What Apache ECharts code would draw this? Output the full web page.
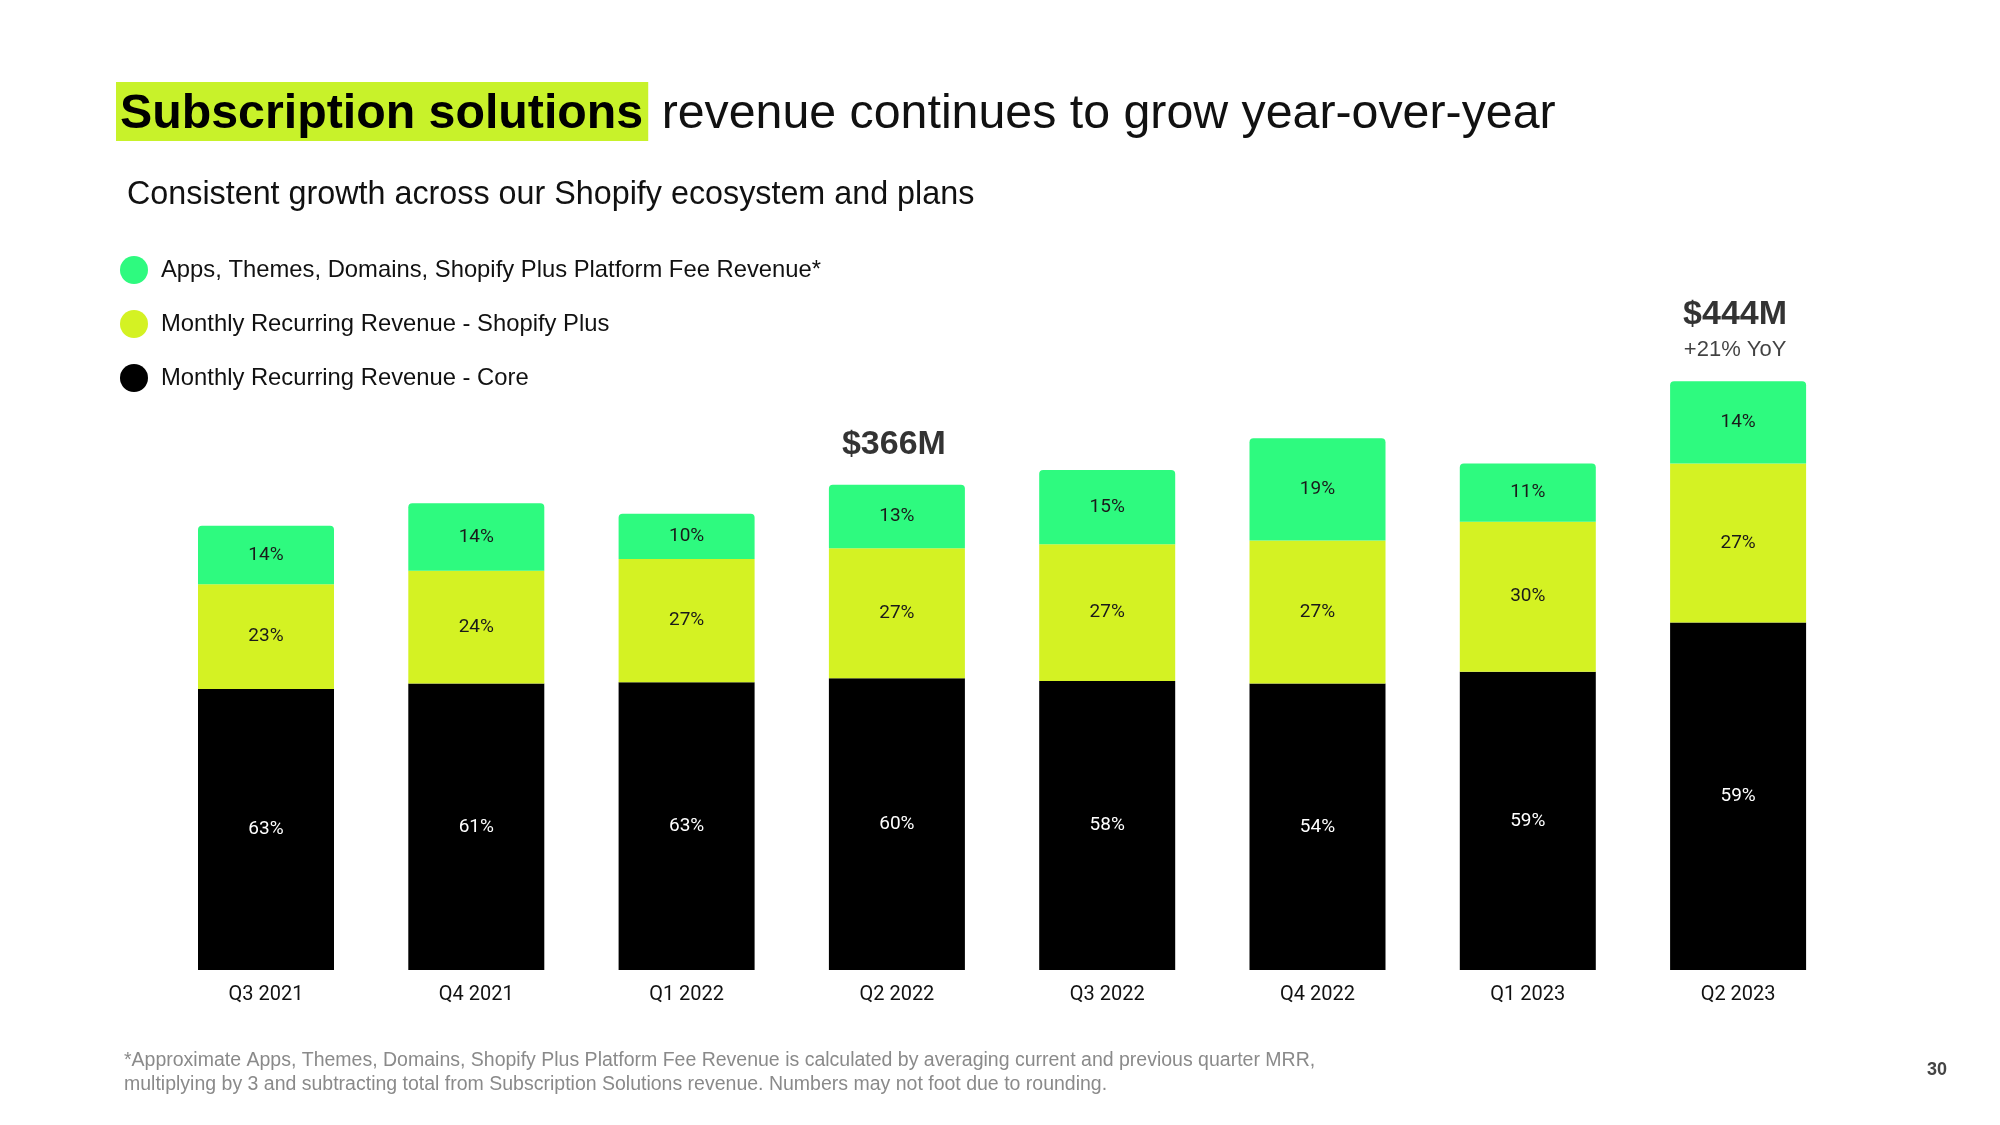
<!DOCTYPE html>
<html>
<head>
<meta charset="utf-8">
<script src="https://cdn.jsdelivr.net/npm/echarts@6/dist/echarts.min.js"></script>
<style>
html,body{margin:0;padding:0;background:#fff;}
#chart{width:2000px;height:1125px;}
</style>
</head>
<body>
<div id="chart"></div>
<script>
// Data (values in $M)
const quarters = ['Q3 2021','Q4 2021','Q1 2022','Q2 2022','Q3 2022','Q4 2022','Q1 2023','Q2 2023'];
const coreValues = [212, 216, 217, 220, 218, 216, 225, 262];
const plusValues = [79, 85, 93, 98, 103, 108, 113, 120];
const appsValues = [44, 51, 34, 48, 56, 77, 44, 62];
const corePct = ['63%','61%','63%','60%','58%','54%','59%','59%'];
const plusPct = ['23%','24%','27%','27%','27%','27%','30%','27%'];
const appsPct = ['14%','14%','10%','13%','15%','19%','11%','14%'];
const totalLabels = ['', '', '', '$366M', '', '', '', '$444M'];
const yoyLabels = ['', '', '', '', '', '', '', '+21% YoY'];
const seriesNames = ['Apps, Themes, Domains, Shopify Plus Platform Fee Revenue*',
  'Monthly Recurring Revenue - Shopify Plus', 'Monthly Recurring Revenue - Core'];

const totals = quarters.map((q, i) => coreValues[i] + plusValues[i] + appsValues[i]);

const chart = echarts.init(document.getElementById('chart'), null, {renderer: 'canvas'});
const labelFont = 'Roboto, "Liberation Sans", sans-serif';
const headFont = '"Liberation Sans", Arial, Helvetica, sans-serif';

function barSeries(name, values, pcts, color, textColor, radius) {
  return {
    name: name, type: 'bar', stack: 'rev', barWidth: 136,
    data: values,
    itemStyle: {color: color, borderRadius: radius},
    label: {show: true, position: 'inside', fontFamily: labelFont, fontSize: 19,
      color: textColor, formatter: p => pcts[p.dataIndex]},
    emphasis: {disabled: true}
  };
}

const option = {
  backgroundColor: '#ffffff',
  animation: false,
  title: [
    {
      left: 111, top: 77,
      text: '{hl|Subscription solutions}{rg| revenue continues to grow year-over-year}',
      textStyle: {
        rich: {
          hl: {fontFamily: headFont, fontSize: 48.3, fontWeight: 'bold', color: '#000',
            backgroundColor: '#C8F22A', padding: [9, 5, 2, 4]},
          rg: {fontFamily: headFont, fontSize: 48.3, fontWeight: 'normal', color: '#111', padding: [9, 0, 2, 0]}
        }
      }
    },
    {
      left: 122, top: 174,
      text: 'Consistent growth across our Shopify ecosystem and plans',
      textStyle: {fontFamily: headFont, fontSize: 32.3, fontWeight: 'normal', color: '#111'}
    },
    {
      left: 119, top: 1044,
      text: '*Approximate Apps, Themes, Domains, Shopify Plus Platform Fee Revenue is calculated by averaging current and previous quarter MRR,\nmultiplying by 3 and subtracting total from Subscription Solutions revenue. Numbers may not foot due to rounding.',
      textStyle: {fontFamily: headFont, fontSize: 19.5, fontWeight: 'normal', color: '#8a8a8a', lineHeight: 24}
    },
    {
      left: 1922, top: 1056,
      text: '30',
      textStyle: {fontFamily: headFont, fontSize: 18, fontWeight: 'bold', color: '#444'}
    }
  ],
  legend: {
    orient: 'vertical', left: 115, top: 251,
    itemWidth: 28, itemHeight: 28, itemGap: 26, icon: 'circle',
    data: seriesNames,
    textStyle: {fontFamily: headFont, fontSize: 23.8, color: '#111', padding: [0, 0, 0, 8]},
    selectedMode: false
  },
  grid: {left: 160.85, right: 156.75, top: 307, bottom: 155},
  xAxis: {
    type: 'category', data: quarters,
    axisLine: {show: false}, axisTick: {show: false},
    axisLabel: {fontFamily: labelFont, fontSize: 20, color: '#111', margin: 15}
  },
  yAxis: {type: 'value', min: 0, max: 500, show: false, splitLine: {show: false}},
  series: [
    barSeries(seriesNames[2], coreValues, corePct, '#000000', '#ffffff', 0),
    barSeries(seriesNames[1], plusValues, plusPct, '#D4F223', '#1a1a1a', 0),
    barSeries(seriesNames[0], appsValues, appsPct, '#2EFA7F', '#1a1a1a', [4, 4, 0, 0]),
    {
      name: 'totals', type: 'scatter', symbolSize: 0, silent: true,
      data: totals.map((t, i) => ({
        value: [quarters[i], t],
        label: {distance: yoyLabels[i] ? 16 : 19}
      })),
      label: {
        show: true, position: 'top', offset: [-3, 0],
        formatter: p => {
          const i = p.dataIndex;
          if (!totalLabels[i]) return '';
          return yoyLabels[i] ? '{big|' + totalLabels[i] + '}\n{small|' + yoyLabels[i] + '}'
                              : '{big|' + totalLabels[i] + '}';
        },
        rich: {
          big: {fontFamily: headFont, fontSize: 34, fontWeight: 'bold', color: '#000', lineHeight: 42, align: 'center'},
          small: {fontFamily: headFont, fontSize: 22, color: '#111', lineHeight: 30, align: 'center'}
        }
      }
    }
  ]
};
chart.setOption(option);
</script>
</body>
</html>
